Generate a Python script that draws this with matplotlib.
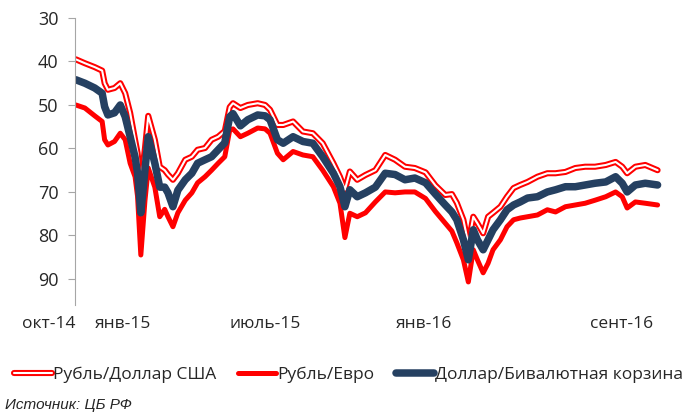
import numpy as np
import pandas as pd
import matplotlib
matplotlib.use('Agg')
import matplotlib.pyplot as plt

plt.rcParams['font.family'] = ['Open Sans', 'DejaVu Sans']

# days since 1 Oct 2014
days = [0, 11, 23, 32, 35, 39, 47, 54, 60, 66, 72, 75, 79, 84, 88, 96, 102, 108, 112, 118,
        124, 133, 141, 148, 157, 165, 173, 181, 187, 191, 200, 209, 221, 230, 236, 245, 252,
        264, 276, 288, 300, 313, 321, 327, 333, 342, 352, 364, 376, 388, 400, 412, 425, 437,
        449, 457, 463, 471, 477, 483, 488, 495, 501, 507, 516, 524, 532, 540, 549, 561, 573,
        583, 595, 607, 619, 631, 644, 656, 664, 670, 680, 692, 707]

rub_usd = [39.5, 40.4, 41.3, 42.1, 45.0, 46.5, 46.1, 45.0, 47.3, 51.8, 58.0, 61.0, 68.0, 60.0,
           52.5, 58.0, 64.2, 65.0, 66.0, 67.2, 65.7, 62.6, 61.9, 60.3, 59.9, 58.0, 57.3, 56.0,
           50.5, 49.6, 50.7, 50.0, 49.6, 50.0, 51.1, 54.6, 54.6, 53.8, 56.1, 56.5, 58.8, 63.4,
           66.5, 69.5, 65.3, 67.2, 66.1, 65.0, 61.5, 62.6, 64.2, 64.5, 65.5, 68.5, 70.7, 70.5,
           72.5, 76.4, 82.0, 75.7, 77.2, 79.5, 75.7, 74.8, 73.4, 71.1, 69.1, 68.4, 67.7, 66.5,
           65.7, 65.7, 65.4, 64.5, 64.2, 64.2, 63.8, 63.1, 64.2, 65.7, 64.2, 63.8, 65.0]

rub_eur = [50.0, 50.7, 52.5, 53.8, 58.0, 59.2, 58.4, 56.5, 58.0, 63.4, 66.5, 71.0, 84.5, 72.0,
           64.5, 68.9, 75.7, 74.0, 75.7, 78.0, 74.8, 71.9, 70.2, 67.9, 66.5, 65.0, 63.4, 61.9,
           55.8, 55.5, 57.3, 56.5, 55.3, 55.5, 56.5, 61.1, 62.6, 60.7, 61.5, 61.9, 65.0, 68.8,
           72.6, 80.5, 74.9, 75.7, 74.8, 72.3, 70.0, 70.2, 70.0, 70.0, 71.5, 74.5, 77.2, 79.0,
           81.7, 85.6, 90.7, 83.3, 85.6, 88.6, 86.4, 83.3, 81.0, 78.0, 76.4, 76.0, 75.7, 75.3,
           74.1, 74.6, 73.4, 73.0, 72.6, 71.9, 71.1, 70.0, 71.1, 73.7, 72.3, 72.6, 73.0]

usd_basket = [44.2, 45.0, 46.1, 47.3, 50.4, 52.3, 51.8, 50.0, 52.7, 57.3, 62.0, 65.6, 74.8, 65.0,
              57.3, 63.4, 68.9, 68.9, 70.2, 73.4, 69.6, 67.2, 65.7, 63.4, 62.6, 61.9, 60.3, 58.7,
              52.7, 52.0, 54.8, 53.4, 52.3, 52.5, 53.4, 58.0, 58.8, 57.3, 58.4, 58.8, 61.9, 65.7,
              68.8, 73.4, 69.5, 71.1, 70.2, 68.9, 65.7, 66.0, 67.2, 66.8, 67.9, 70.5, 73.0, 74.6,
              76.4, 81.0, 85.6, 78.7, 81.0, 83.3, 81.0, 78.7, 76.4, 74.1, 73.0, 72.3, 71.4, 71.1,
              70.0, 69.5, 68.8, 68.8, 68.4, 68.0, 67.7, 66.5, 68.0, 70.0, 68.4, 68.0, 68.4]

tick_dates = ['2014-10-01', '2015-01-01', '2015-07-01', '2016-01-01', '2016-09-01']
tick_labels = ['окт-14', 'янв-15', 'июль-15', 'янв-16', 'сент-16']
legend_labels = ['Рубль/Доллар США', 'Рубль/Евро', 'Доллар/Бивалютная корзина']

start = pd.Timestamp('2014-10-01')
dates = start + pd.to_timedelta(days, unit='D')

red = '#FF0000'
navy = '#254061'
txt = '#262626'

fig = plt.figure(figsize=(6.9, 4.15), dpi=100)
ax = fig.add_axes([75/690, 1-305/415, 590/690, 287/415])

kw = dict(solid_joinstyle='round', solid_capstyle='round')
l1, = ax.plot(dates, rub_usd, color=red, lw=4.4, **kw)
l1w, = ax.plot(dates, rub_usd, color='white', lw=1.5, **kw)
l2, = ax.plot(dates, rub_eur, color=red, lw=3.6, **kw)
l3, = ax.plot(dates, usd_basket, color=navy, lw=5.4, **kw)

ax.set_ylim(96, 30)
ax.set_yticks(np.arange(30, 91, 10))
ax.set_xlim(start - pd.Timedelta(days=1), start + pd.Timedelta(days=716))
ax.set_xticks(pd.to_datetime(tick_dates))
ax.set_xticklabels(tick_labels, ha='right')

for s in ['top', 'right', 'bottom']:
    ax.spines[s].set_visible(False)
ax.spines['left'].set_color('#A6A6A6')
ax.tick_params(axis='y', length=5, color='#A6A6A6', pad=7, labelsize=13, labelcolor=txt)
ax.tick_params(axis='x', length=0, pad=8, labelsize=12.5, labelcolor=txt)

leg = fig.legend([(l1, l1w), l2, l3], legend_labels,
                 loc='center left', bbox_to_anchor=(14/690, 1-375/415), ncol=3,
                 frameon=False, fontsize=12.5, handlelength=2.2, handletextpad=0.05,
                 columnspacing=1.25, borderpad=0, borderaxespad=0)
for t in leg.get_texts():
    t.set_color(txt)

fig.text(5/690, 1-405/415, 'Источник: ЦБ РФ', fontsize=11, style='italic',
         family=['Liberation Sans Narrow', 'Liberation Sans', 'DejaVu Sans'],
         va='center', ha='left', color=txt)

fig.savefig('out.png', dpi=100)
